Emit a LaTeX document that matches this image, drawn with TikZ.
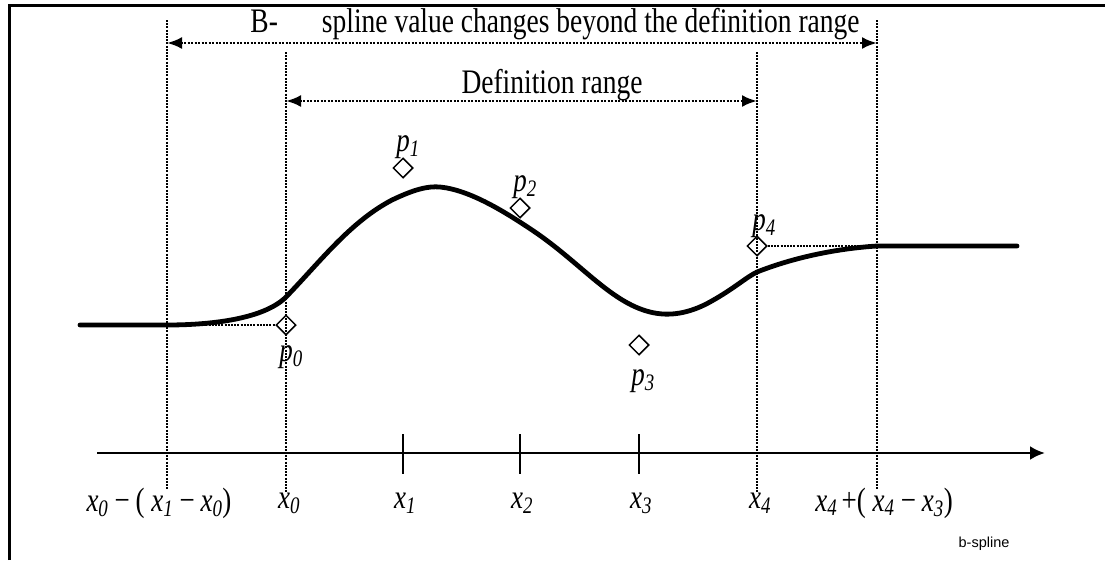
\documentclass[tikz,border=0pt]{standalone}
\usepackage{fontspec}
\setmainfont{Liberation Serif}
\newfontfamily\labsans{Liberation Sans}
\usetikzlibrary{arrows.meta,shapes.geometric}
\newcommand\xs[1]{\textit{x}\textsubscript{\textit{#1}}}
\newcommand\ps[1]{\textit{p}\textsubscript{\textit{#1}}}
\newcommand\tall[1]{\scalebox{1}[1.25]{#1}}
\tikzset{
  guide/.style={line width=2pt, dash pattern=on 2pt off 1.2pt},
  dimarrow/.style={line width=2.6pt, dash pattern=on 2.2pt off 1.3pt, {Latex[length=15pt,width=12pt]}-{Latex[length=15pt,width=12pt]}},
  ctrl/.style={diamond, draw, line width=1.5pt, fill=none, minimum size=20pt, inner sep=0pt},
  curve/.style={line width=4.8pt, line cap=round, line join=round},
  lab/.style={font=\fontsize{27}{30}\selectfont, inner sep=0pt},
  txt/.style={font=\fontsize{27.5}{30}\selectfont, inner sep=0pt},
}
\begin{document}
\begin{tikzpicture}[x=1pt,y=-1pt]
\useasboundingbox (0,0) rectangle (1105,560);
% frame (top and left only)
\draw[line width=3pt] (9.5,560) -- (9.5,5.5) -- (1105,5.5);

% guide coordinates
\coordinate (gAtop) at (167,20);  \coordinate (gAbot) at (167,490);
\coordinate (gBtop) at (286,52);  \coordinate (gBbot) at (286,493);
\coordinate (gCtop) at (757,52);  \coordinate (gCbot) at (757,493);
\coordinate (gDtop) at (877,20);  \coordinate (gDbot) at (877,490);
\draw[guide] (gAtop) -- (gAbot);
\draw[guide] (gBtop) -- (gBbot);
\draw[guide] (gCtop) -- (gCbot);
\draw[guide] (gDtop) -- (gDbot);

% dimension arrows
\coordinate (aL) at (167,43); \coordinate (aR) at (877,43);
\draw[dimarrow] (aL) -- (aR);
\node[txt] (toptext) at (555,24) {\tall{B-\hspace{1.6em}spline value changes beyond the definition range}};
\coordinate (dL) at (286,101); \coordinate (dR) at (757,101);
\draw[dimarrow] (dL) -- (dR);
\node[txt] (deftext) at (552,85) {\tall{Definition range}};

% control points
\node[ctrl] (p0) at (286,325) {};
\node[ctrl] (p1) at (403,168) {};
\node[ctrl] (p2) at (520,208) {};
\node[ctrl] (p3) at (639,345) {};
\node[ctrl] (p4) at (757,246) {};
\node[lab] (lp0) at (291,357) {\tall{\ps{0}}};
\node[lab] (lp1) at (408,147) {\tall{\ps{1}}};
\node[lab] (lp2) at (525,187) {\tall{\ps{2}}};
\node[lab] (lp3) at (643,381) {\tall{\ps{3}}};
\node[lab] (lp4) at (764,226) {\tall{\ps{4}}};

% dotted helper lines
\coordinate (s0) at (167,325);
\coordinate (s4) at (877,246);
\draw[guide] (s0) -- (p0.west);
\draw[guide] (p4.east) -- (s4);

% curve
\coordinate (cstart) at (80,325);
\coordinate (cend) at (1017,246);
\draw[curve] (cstart) -- (s0)
  .. controls (215,325) and (265,318) .. (286,297)
  .. controls (320,262) and (350,222) .. (392,200)
  .. controls (415,189) and (428,186) .. (440,187)
  .. controls (470,190) and (505,212) .. (532,230)
  .. controls (580,262) and (610,302) .. (650,312)
  .. controls (670,317) and (690,313) .. (710,302)
  .. controls (735,288) and (745,278) .. (757,272)
  .. controls (800,255) and (845,248) .. (s4) -- (cend);

% axis
\coordinate (axL) at (97,453); \coordinate (axR) at (1045,453);
\draw[line width=2.8pt, -{Latex[length=15pt,width=14pt]}] (axL) -- (axR);
\foreach \t/\xx in {t1/403,t2/520,t3/639}{
  \draw[line width=1.4pt] (\xx,434) coordinate (\t a) -- (\xx,474) coordinate (\t b);
}

% axis labels
\node[lab] (lx00) at (159,503) {\tall{\xs{0}\,\textit{−}\,( \xs{1}\,\textit{−}\,\xs{0})}};
\node[lab] (lx0) at (289,503) {\tall{\xs{0}}};
\node[lab] (lx1) at (405,503) {\tall{\xs{1}}};
\node[lab] (lx2) at (522,503) {\tall{\xs{2}}};
\node[lab] (lx3) at (641,503) {\tall{\xs{3}}};
\node[lab] (lx4) at (760,503) {\tall{\xs{4}}};
\node[lab] (lx44) at (884,503) {\tall{\xs{4}\,+( \xs{4}\,\textit{−}\,\xs{3})}};

\node[font=\labsans\fontsize{14.5}{16}\selectfont, inner sep=0pt] (name) at (984,544) {b-spline};
\end{tikzpicture}
\end{document}
